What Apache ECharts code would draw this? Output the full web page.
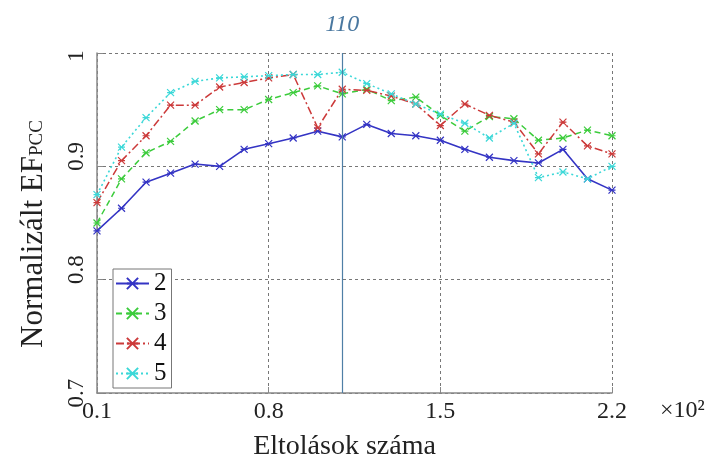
<!DOCTYPE html>
<html>
<head>
<meta charset="utf-8">
<script src="https://cdn.jsdelivr.net/npm/echarts@6/dist/echarts.min.js"></script>
<style>
html,body{margin:0;padding:0;background:#fff;}
#chart{width:718px;height:466px;}
</style>
</head>
<body>
<div id="chart"></div>
<script>
var categories = ['0.1','0.2','0.3','0.4','0.5','0.6','0.7','0.8','0.9','1.0','1.1','1.2','1.3','1.4','1.5','1.6','1.7','1.8','1.9','2.0','2.1','2.2'];
var s2 = [0.843,0.863,0.886,0.894,0.902,0.900,0.915,0.920,0.925,0.931,0.926,0.937,0.929,0.927,0.923,0.915,0.908,0.905,0.903,0.915,0.889,0.879];
var s3 = [0.850,0.889,0.912,0.922,0.940,0.950,0.950,0.959,0.965,0.971,0.964,0.968,0.958,0.961,0.945,0.931,0.944,0.942,0.923,0.925,0.932,0.927];
var s4 = [0.868,0.905,0.927,0.954,0.954,0.970,0.974,0.978,0.981,0.934,0.968,0.967,0.962,0.955,0.936,0.955,0.945,0.939,0.911,0.939,0.918,0.911];
var s5 = [0.875,0.917,0.943,0.965,0.975,0.978,0.979,0.980,0.981,0.981,0.983,0.973,0.964,0.955,0.946,0.938,0.925,0.938,0.890,0.895,0.889,0.900];
var seriesNames = ['2','3','4','5'];
var markX = '1.1';
var markLabel = '110';
var yLabelMain = 'Normalizált EF';
var yLabelSub = 'PCC';
var xLabel = 'Eltolások száma';
var xScale = '×10²';

var FONT = '"Liberation Serif", "DejaVu Serif", serif';
var star = 'path://M0,0L10,10M10,0L0,10M0,5L10,5';

function mk(name, data, color, dash, width, extra) {
  var s = {
    name: name, type: 'line', data: data,
    symbol: star, symbolSize: 7, showSymbol: true,
    lineStyle: { color: color, width: width, type: dash },
    itemStyle: { color: 'none', borderColor: color, borderWidth: 1.2 },
    z: 3
  };
  if (extra) for (var k in extra) s[k] = extra[k];
  return s;
}

var chart = echarts.init(document.getElementById('chart'));
chart.setOption({
  animation: false,
  backgroundColor: '#fff',
  grid: { left: 97, right: 106, top: 53, bottom: 73, show: false },
  title: {
    text: xScale, left: 660, top: 399, padding: 0,
    textStyle: { fontFamily: FONT, fontSize: 24, fontWeight: 'normal', color: '#222' }
  },
  legend: {
    data: seriesNames, orient: 'vertical', left: 113, top: 269,
    backgroundColor: '#fff', borderColor: '#777', borderWidth: 1,
    padding: [2, 5, 2, 2], itemGap: 5, itemWidth: 33, itemHeight: 14,
    textStyle: { fontFamily: FONT, fontSize: 25, color: '#111', padding: [0, 0, 0, 0] }
  },
  xAxis: {
    type: 'category', data: categories, boundaryGap: false,
    name: xLabel, nameLocation: 'middle', nameGap: 40,
    nameTextStyle: { fontFamily: FONT, fontSize: 28, color: '#222', padding: [0, 20, 0, 0] },
    axisLine: { lineStyle: { color: '#888', width: 1.5 } },
    axisTick: { show: true, inside: true, interval: 6, length: 6, lineStyle: { color: '#888' } },
    axisLabel: { interval: 6, fontFamily: FONT, fontSize: 24, color: '#222', margin: 7 },
    splitLine: { show: true, interval: 6, lineStyle: { color: '#777', type: [3, 3], width: 1 } }
  },
  yAxis: {
    type: 'value', min: 0.7, max: 1, interval: 0.1,
    name: '{a|' + yLabelMain + '}{b|' + yLabelSub + '}',
    nameLocation: 'middle', nameGap: 48, nameRotate: 90,
    nameTextStyle: {
      padding: [0, 22, 0, 0],
      rich: {
        a: { fontFamily: FONT, fontSize: 31, color: '#222' },
        b: { fontFamily: FONT, fontSize: 19, color: '#222', padding: [8, 0, 0, 0] }
      }
    },
    axisLine: { show: true, lineStyle: { color: '#888', width: 1.5 } },
    axisTick: { show: true, inside: true, length: 6, lineStyle: { color: '#888' } },
    axisLabel: {
      rotate: 90, fontFamily: FONT, fontSize: 23, color: '#222', margin: 9,
      formatter: function (v) {
        var t = String(Math.round(v * 10) / 10);
        if (Math.abs(v - 0.9) < 1e-6 || Math.abs(v - 0.8) < 1e-6) return '{u|' + t + '}';
        if (Math.abs(v - 1) < 1e-6) return '{d|' + t + '}';
        return t;
      },
      rich: {
        u: { fontFamily: FONT, fontSize: 23, color: '#222', padding: [0, 0, 0, 20] },
        d: { fontFamily: FONT, fontSize: 23, color: '#222', padding: [0, 6, 0, 0] }
      }
    },
    splitLine: { show: true, lineStyle: { color: '#777', type: [3, 3], width: 1 } }
  },
  series: [
    mk(seriesNames[0], s2, '#3434c4', 'solid', 1.6, {
      markLine: {
        silent: true, symbol: 'none',
        lineStyle: { color: '#4f7fa6', width: 1.2, type: 'solid' },
        label: { show: true, position: 'end', formatter: markLabel, distance: 16,
          fontFamily: FONT, fontSize: 24, fontStyle: 'italic', color: '#4a78a0' },
        data: [{ xAxis: markX }]
      }
    }),
    mk(seriesNames[1], s3, '#3ccc3c', [6, 4], 1.5),
    mk(seriesNames[2], s4, '#cc3a3a', [8, 3, 2, 3], 1.5),
    mk(seriesNames[3], s5, '#3cd8d8', [2, 3], 1.6)
  ]
});
</script>
</body>
</html>
